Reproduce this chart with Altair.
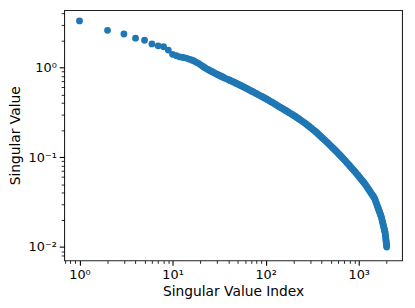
import altair as alt
import pandas as pd

# Singular value index (x) and singular value (y)
idx_a = [1, 2, 3, 4, 5, 6, 7, 8, 9, 10, 11, 12, 13, 14, 15, 16, 17, 18, 19, 20,
         21, 22, 23, 24, 25, 27, 29, 31, 33, 35, 38, 41, 44, 47, 50, 54, 58, 62,
         67, 72, 77, 83, 89, 95, 102, 110, 118, 127, 136, 146, 157, 168, 180,
         193, 207, 222, 238, 255, 273, 292, 312, 334, 357, 381, 407, 434, 463,
         494, 527, 562, 599, 638, 680, 724, 771, 820, 872, 927, 985, 1045, 1105,
         1165, 1225, 1285, 1345, 1405, 1460, 1515, 1565, 1615, 1660, 1705, 1745,
         1785, 1820, 1855, 1885, 1910, 1935, 1955, 1972, 1987, 1994, 2000]
sv_a = [3.30, 2.59, 2.36, 2.12, 2.01, 1.83, 1.74, 1.70, 1.56, 1.40, 1.35, 1.31,
        1.29, 1.27, 1.24, 1.21, 1.18, 1.14, 1.11, 1.07,
        1.032, 1.000, 0.972, 0.948, 0.927, 0.889, 0.855, 0.826, 0.800, 0.777,
        0.746, 0.720, 0.696, 0.675, 0.654, 0.629, 0.606, 0.585,
        0.561, 0.539, 0.520, 0.499, 0.480, 0.463, 0.445, 0.425, 0.407, 0.389,
        0.372, 0.356, 0.341, 0.327, 0.312,
        0.299, 0.286, 0.272, 0.259, 0.246, 0.234, 0.221, 0.209, 0.198, 0.186,
        0.175, 0.164, 0.154, 0.145,
        0.1355, 0.127, 0.119, 0.111, 0.1037, 0.0967, 0.0902, 0.0839, 0.0780,
        0.0726, 0.0675, 0.0625, 0.0580, 0.0541,
        0.0505, 0.0468, 0.0434, 0.0404, 0.0378, 0.0356, 0.0327, 0.0298, 0.0272,
        0.0252, 0.0233, 0.0218,
        0.0198, 0.0182, 0.0168, 0.0157, 0.01484, 0.01362, 0.0124, 0.01142,
        0.01064, 0.0103, 0.00997]

# further readings in between the ones above, where the dots merge into a band
idx_b = [26, 28, 30, 32, 34, 36, 40, 42, 45, 48, 52, 56, 60, 64, 70, 74, 80,
         86, 92, 98, 106, 114, 122, 131, 141, 151, 162, 174, 186, 200, 214, 230,
         246, 264, 282, 302, 323, 345, 369, 394, 420, 448, 478, 510, 544, 580,
         618, 659, 702, 747, 795, 846, 899, 956, 1015, 1075, 1135, 1195, 1255,
         1315, 1375, 1432, 1488, 1540, 1590, 1638, 1682, 1725, 1765, 1803, 1838,
         1870, 1898, 1922, 1945, 1964, 1980]
sv_b = [0.907, 0.871, 0.839, 0.813, 0.789, 0.761, 0.729, 0.712, 0.689, 0.668,
        0.641, 0.617, 0.596, 0.575, 0.548, 0.531, 0.509,
        0.489, 0.472, 0.455, 0.435, 0.416, 0.398, 0.381, 0.364, 0.349, 0.334,
        0.319, 0.306, 0.292, 0.279, 0.265,
        0.2525, 0.240, 0.2275, 0.215, 0.203, 0.1923, 0.1803, 0.1693, 0.159,
        0.1494, 0.140, 0.1312, 0.123, 0.115,
        0.1073, 0.1001, 0.0935, 0.0870, 0.0809, 0.0752, 0.0701, 0.0649, 0.0602,
        0.0560, 0.0523, 0.0486, 0.0450,
        0.0419, 0.0391, 0.0367, 0.0344, 0.0312, 0.0285, 0.0262, 0.0242, 0.0225,
        0.0208, 0.0190, 0.0175,
        0.01625, 0.01525, 0.01446, 0.0130, 0.01189, 0.0110]

x_ticks = [0.7, 0.8, 0.9, 1, 2, 3, 4, 5, 6, 7, 8, 9, 10, 20, 30, 40, 50, 60,
           70, 80, 90, 100, 200, 300, 400, 500, 600, 700, 800, 900, 1000, 2000]
y_ticks = [0.008, 0.009, 0.01, 0.02, 0.03, 0.04, 0.05, 0.06, 0.07, 0.08, 0.09,
           0.1, 0.2, 0.3, 0.4, 0.5, 0.6, 0.7, 0.8, 0.9, 1, 2, 3, 4]

x_title = "Singular Value Index"
y_title = "Singular Value"

df = pd.DataFrame({"idx": idx_a + idx_b, "sv": sv_a + sv_b})

FONT = "DejaVu Sans"
majors = "[0.01, 0.1, 1, 10, 100, 1000]"
tick_size = {"condition": {"test": f"indexof({majors}, datum.value) >= 0", "value": 5}, "value": 3}
tick_width = {"condition": {"test": f"indexof({majors}, datum.value) >= 0", "value": 1.1}, "value": 0.85}

x_label = ("datum.value == 1 ? '10\u2070' : datum.value == 10 ? '10\u00b9' : "
           "datum.value == 100 ? '10\u00b2' : datum.value == 1000 ? '10\u00b3' : ''")
y_label = ("datum.value == 1 ? '10\u2070' : datum.value == 0.1 ? '10\u207b\u00b9' : "
           "datum.value == 0.01 ? '10\u207b\u00b2' : ''")

common = dict(
    grid=False, domain=False, tickColor="black", tickSize=tick_size, tickWidth=tick_width,
    labelColor="black", labelFont=FONT, labelFontSize=13, labelOverlap=False,
    labelFlush=False, titleFont=FONT, titleFontSize=14, titleFontWeight="normal",
    titleColor="black", titleBaseline="alphabetic", titleAlign="center",
)

chart = alt.Chart(df).mark_circle(size=48, color="#1f77b4", opacity=1).encode(
    x=alt.X("idx:Q", scale=alt.Scale(type="log", domain=[0.684, 2924], nice=False),
            axis=alt.Axis(values=x_ticks, labelExpr=x_label, labelPadding=3,
                          title=x_title, titleX=171.5, titleY=35.3, **common)),
    y=alt.Y("sv:Q", scale=alt.Scale(type="log", domain=[0.00708, 4.345], nice=False),
            axis=alt.Axis(values=y_ticks, labelExpr=y_label, labelPadding=3,
                          title=y_title, titleAngle=270, titleX=-45, titleY=127, **common)),
).properties(
    width=343, height=254,
    padding={"left": 57, "top": 0, "right": 5, "bottom": 40},
    autosize=alt.AutoSizeParams(type="none"),
).configure_view(stroke="#222222", strokeWidth=1.1)

chart.save("out.html", embed_options={"renderer": "svg", "actions": False})
